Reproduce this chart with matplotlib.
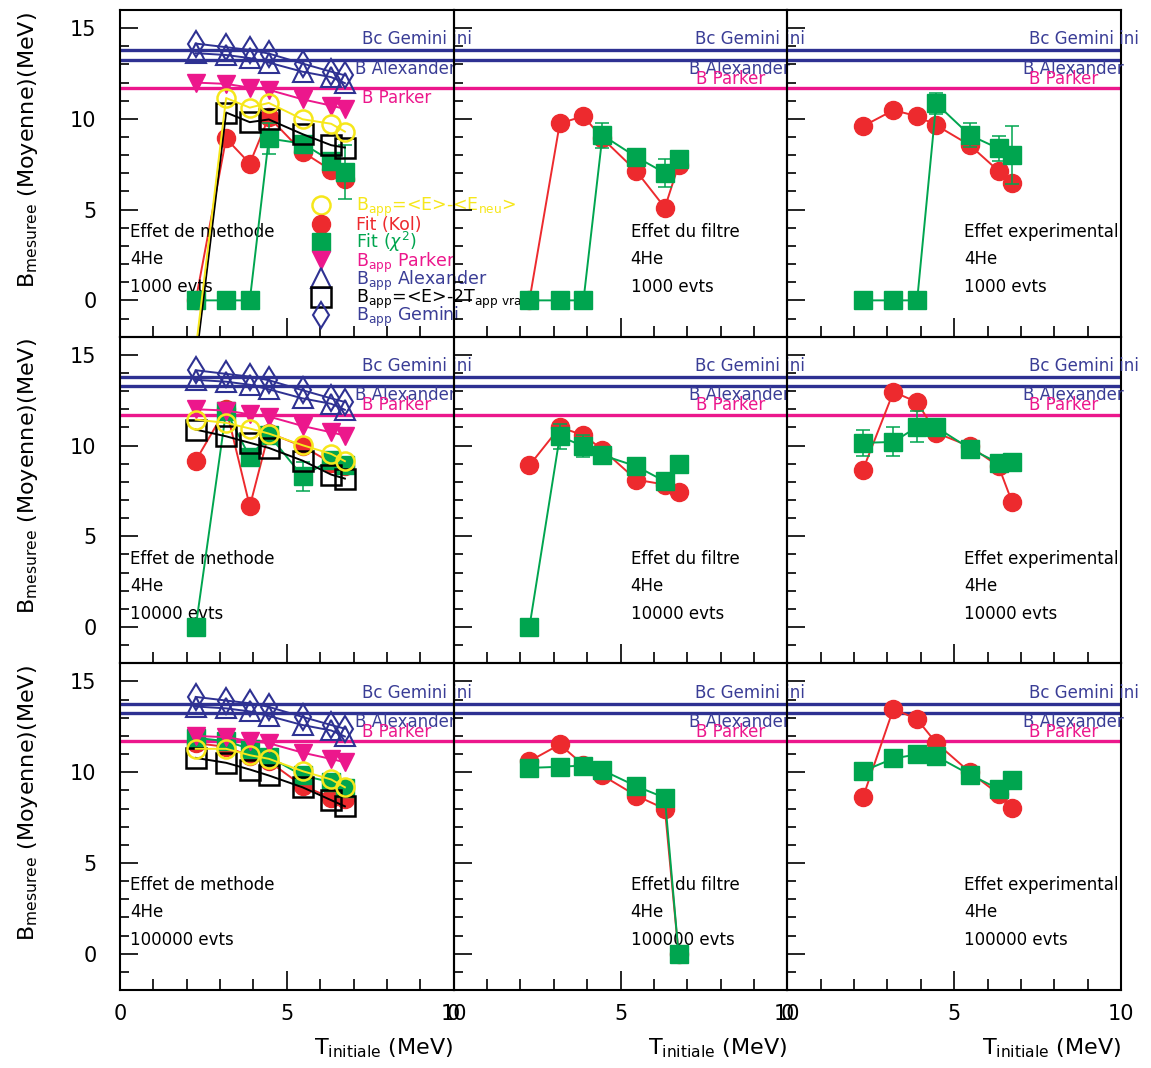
import matplotlib
matplotlib.use("Agg")
import matplotlib.pyplot as plt
from matplotlib.ticker import MultipleLocator

# energies initiales (MeV)
t_init = [2.27, 3.18, 3.89, 4.46, 5.47, 6.33, 6.74]

# B apparents "theoriques" (identiques dans les 3 lignes)
b_parker = [12.0, 11.93, 11.72, 11.6, 11.08, 10.73, 10.55]
b_alexander = [13.62, 13.52, 13.35, 13.1, 12.6, 12.3, 11.97]
b_gemini = [14.15, 13.95, 13.8, 13.6, 13.05, 12.6, 12.4]

# lignes de reference
ref_gemini = 13.77
ref_alexander = 13.27
ref_parker = 11.7

# --- 1000 evts ---
eneu_1k = [-2.7, 11.15, 10.62, 10.88, 9.98, 9.73, 9.3]
vrai_1k = [-3.4, 10.35, 9.82, 9.97, 9.16, 8.55, 8.42]
kol_meth_1k = [0, 8.92, 7.54, 10.1, 8.18, 7.17, 6.71]
chi2_meth_1k = [0, 0, 0, 8.92, 8.64, 7.68, 7.08]
chi2_meth_1k_err = [0, 0, 0, 0.85, 0.4, 0.4, 1.5]
kol_filt_1k = [0, 9.75, 10.15, 8.92, 7.13, 5.11, 7.45]
chi2_filt_1k = [0, 0, 0, 9.1, 7.9, 7.02, 7.8]
chi2_filt_1k_err = [0, 0, 0, 0.7, 0.3, 0.75, 0.3]
kol_exp_1k = [9.6, 10.48, 10.15, 9.65, 8.55, 7.13, 6.49]
chi2_exp_1k = [0, 0, 0, 10.85, 9.1, 8.37, 8.0]
chi2_exp_1k_err = [0, 0, 0, 0.6, 0.65, 0.7, 1.6]

# --- 10000 evts ---
eneu_10k = [11.43, 11.25, 10.94, 10.66, 10.02, 9.54, 9.14]
vrai_10k = [10.88, 10.51, 10.15, 9.87, 9.17, 8.4, 8.18]
kol_meth_10k = [9.17, 12.04, 6.65, 10.7, 9.96, 9.05, 8.9]
chi2_meth_10k = [0, 11.9, 9.37, 10.6, 8.3, 9.23, 8.95]
chi2_meth_10k_err = [0, 0.3, 0.3, 0.3, 0.8, 0.3, 0.3]
kol_filt_10k = [8.91, 11.01, 10.57, 9.78, 8.12, 7.85, 7.45]
chi2_filt_10k = [0, 10.51, 9.96, 9.47, 8.86, 8.03, 8.99]
chi2_filt_10k_err = [0, 0.7, 0.6, 0.3, 0.3, 0.3, 0.3]
kol_exp_10k = [8.68, 12.96, 12.39, 10.7, 9.96, 8.86, 6.87]
chi2_exp_10k = [10.15, 10.2, 11.03, 11.01, 9.83, 9.04, 9.1]
chi2_exp_10k_err = [0.7, 0.8, 0.85, 0.3, 0.3, 0.3, 0.3]

# --- 100000 evts ---
eneu_100k = [11.29, 11.29, 10.94, 10.74, 10.06, 9.6, 9.17]
vrai_100k = [10.79, 10.52, 10.15, 9.82, 9.17, 8.46, 8.12]
kol_meth_100k = [11.6, 11.4, 10.9, 10.6, 9.25, 8.6, 8.5]
chi2_meth_100k = [11.9, 11.71, 11.29, 10.85, 9.82, 9.45, 9.14]
chi2_meth_100k_err = [0.3, 0.3, 0.3, 0.3, 0.3, 0.3, 0.3]
kol_filt_100k = [10.61, 11.53, 10.4, 9.82, 8.71, 7.98, 0]
chi2_filt_100k = [10.24, 10.3, 10.37, 10.11, 9.23, 8.59, 0]
chi2_filt_100k_err = [0.2, 0.2, 0.2, 0.2, 0.2, 0.2, 0]
kol_exp_100k = [8.64, 13.5, 12.91, 11.62, 10.0, 8.8, 8.04]
chi2_exp_100k = [10.06, 10.76, 10.98, 10.88, 9.87, 9.08, 9.56]
chi2_exp_100k_err = [0.35, 0.3, 0.3, 0.3, 0.3, 0.3, 0.3]

row_evts = ["1000 evts", "10000 evts", "100000 evts"]
col_titles = ["Effet de methode", "Effet du filtre", "Effet experimental"]

eneu_rows = [eneu_1k, eneu_10k, eneu_100k]
vrai_rows = [vrai_1k, vrai_10k, vrai_100k]
kol_rows = [[kol_meth_1k, kol_filt_1k, kol_exp_1k],
            [kol_meth_10k, kol_filt_10k, kol_exp_10k],
            [kol_meth_100k, kol_filt_100k, kol_exp_100k]]
chi2_rows = [[chi2_meth_1k, chi2_filt_1k, chi2_exp_1k],
             [chi2_meth_10k, chi2_filt_10k, chi2_exp_10k],
             [chi2_meth_100k, chi2_filt_100k, chi2_exp_100k]]
chi2_err_rows = [[chi2_meth_1k_err, chi2_filt_1k_err, chi2_exp_1k_err],
                 [chi2_meth_10k_err, chi2_filt_10k_err, chi2_exp_10k_err],
                 [chi2_meth_100k_err, chi2_filt_100k_err, chi2_exp_100k_err]]

c_yellow = "#f6e71b"
c_red = "#ed2a2e"
c_green = "#00a54f"
c_magenta = "#ec178c"
c_blue = "#2e3192"

plt.rcParams["font.family"] = "DejaVu Sans"
plt.rcParams["mathtext.fontset"] = "dejavusans"

W, H = 1151, 1068
fig = plt.figure(figsize=(W / 100, H / 100), dpi=100)
fig.patch.set_facecolor("white")

x0, y_top = 120, 10
pw, ph = 333.67, 326.67

for r in range(3):
    for c in range(3):
        left = (x0 + c * pw) / W
        bottom = 1 - (y_top + (r + 1) * ph) / H
        ax = fig.add_axes([left, bottom, pw / W, ph / H])
        ax.patch.set_visible(False)
        ax.set_xlim(0, 10)
        ax.set_ylim(-2, 16)

        # lignes de reference
        ax.axhline(ref_gemini, color=c_blue, lw=2.4, zorder=1)
        ax.axhline(ref_alexander, color=c_blue, lw=2.4, zorder=1)
        ax.axhline(ref_parker, color=c_magenta, lw=2.4, zorder=1)
        ax.text(7.24, 14.1, "Bc Gemini ini", color="#3a3d96", fontsize=12)
        ax.text(7.05, 12.5, "B Alexander", color="#3a3d96", fontsize=12)
        y_park = 10.9 if (r == 0 and c == 0) else 11.95
        ax.text(7.25, y_park, "B Parker", color=c_magenta, fontsize=12)

        kol = kol_rows[r][c]
        chi2 = chi2_rows[r][c]
        err = chi2_err_rows[r][c]

        ax.plot(t_init, kol, color=c_red, lw=1.4, marker="o", ms=13,
                mec=c_red, zorder=3)
        ax.errorbar(t_init, chi2, yerr=err, color=c_green, lw=1.4,
                    marker="s", ms=13, mec=c_green, ecolor=c_green,
                    elinewidth=1.1, capsize=5, capthick=1.1, zorder=4)

        if c == 0:
            ax.plot(t_init, b_parker, color=c_magenta, lw=1.4, marker="v",
                    ms=13, mec=c_magenta, zorder=5)
            ax.plot(t_init, b_alexander, color=c_blue, lw=1.4, marker="^",
                    ms=14, mfc="none", mec=c_blue, mew=1.5, zorder=5)
            ax.plot(t_init, b_gemini, color=c_blue, lw=1.4, marker="d",
                    ms=13, mfc="none", mec=c_blue, mew=1.5, zorder=5)
            ax.plot(t_init, vrai_rows[r], color="black", lw=1.4, marker="s",
                    ms=14, mfc="none", mec="black", mew=1.8, zorder=6)
            ax.plot(t_init, eneu_rows[r], color=c_yellow, lw=1.4, marker="o",
                    ms=13, mfc="none", mec=c_yellow, mew=1.8, zorder=7)

        tx = 0.3 if c == 0 else 5.3
        ax.text(tx, 3.5, col_titles[c], fontsize=12)
        ax.text(tx, 2.0, "4He", fontsize=12)
        ax.text(tx, 0.47, row_evts[r], fontsize=12)

        # axes facon ROOT
        for s in ax.spines.values():
            s.set_linewidth(1.5)
        ax.xaxis.set_major_locator(MultipleLocator(5))
        ax.xaxis.set_minor_locator(MultipleLocator(1))
        ax.yaxis.set_major_locator(MultipleLocator(5))
        ax.yaxis.set_minor_locator(MultipleLocator(1))
        ax.tick_params(which="both", direction="in", top=False, right=False,
                       width=1.2, labelsize=15)
        ax.tick_params(axis="y", which="major", length=13, pad=17)
        ax.tick_params(axis="y", which="minor", length=6.5)
        ax.tick_params(axis="x", which="major", length=14, pad=10)
        ax.tick_params(axis="x", which="minor", length=8)
        ax.tick_params(labelleft=(c == 0), labelbottom=(r == 2))

        if c == 0:
            ax.text(-0.275, 0.995, r"B$_{\mathrm{mesuree}}$ (Moyenne)(MeV)",
                    rotation=90, ha="center", va="top", fontsize=16,
                    transform=ax.transAxes)
        if r == 2:
            ax.text(1.0, -0.178, r"T$_{\mathrm{initiale}}$ (MeV)",
                    ha="right", va="center", fontsize=16,
                    transform=ax.transAxes)

        # legende dans le premier panneau
        if r == 0 and c == 0:
            lx, ltx = 6.02, 7.08
            leg = [
                (5.25, dict(marker="o", mfc="none", mec=c_yellow, mew=1.8, ms=13),
                 r"B$_{\mathrm{app}}$=<E>-<E$_{\mathrm{neu}}$>", c_yellow),
                (4.23, dict(marker="o", mfc=c_red, mec=c_red, ms=13),
                 "Fit (Kol)", c_red),
                (3.22, dict(marker="s", mfc=c_green, mec=c_green, ms=13),
                 r"Fit ($\chi^{2}$)", c_green),
                (2.2, dict(marker="v", mfc=c_magenta, mec=c_magenta, ms=13),
                 r"B$_{\mathrm{app}}$ Parker", c_magenta),
                (1.22, dict(marker="^", mfc="none", mec=c_blue, mew=1.5, ms=14),
                 r"B$_{\mathrm{app}}$ Alexander", "#3a3d96"),
                (0.2, dict(marker="s", mfc="none", mec="black", mew=1.8, ms=14),
                 r"B$_{\mathrm{app}}$=<E>-2T$_{\mathrm{app\ vrai}}$", "black"),
                (-0.78, dict(marker="d", mfc="none", mec=c_blue, mew=1.5, ms=13),
                 r"B$_{\mathrm{app}}$ Gemini", "#3a3d96"),
            ]
            for ly, mk, lab, col in leg:
                ax.plot([lx], [ly], ls="none", clip_on=False, zorder=8, **mk)
                ax.text(ltx, ly - 0.35, lab, color=col, fontsize=12.5,
                        zorder=8)

fig.savefig("out.png", dpi=100)
